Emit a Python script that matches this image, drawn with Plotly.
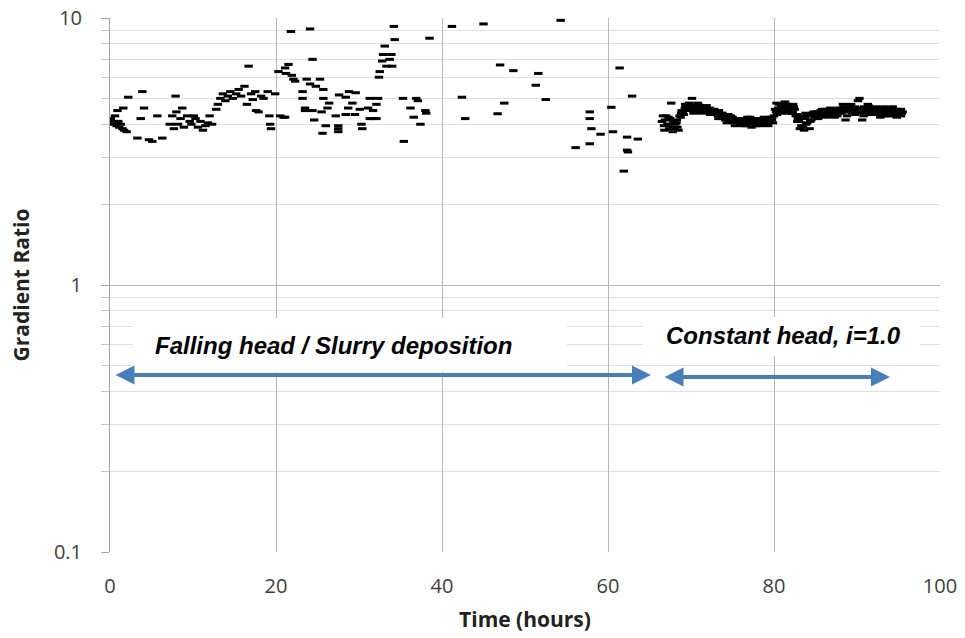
import plotly.graph_objects as go

# Falling head / slurry deposition period
fh_t = [0.1, 0.3, 0.5, 0.6, 0.8, 1.0, 1.1, 1.3, 1.5, 1.7, 2.0, 0.9, 1.6, 2.2, 3.7, 3.9, 4.1, 3.3, 4.7, 5.1,
        6.3, 5.7, 7.9, 7.2, 7.5, 7.7, 8.0, 8.2, 8.5, 8.7, 8.9, 9.3, 9.6, 9.8, 10.1, 10.3, 10.6, 10.9, 11.2, 11.5,
        11.8, 12.0, 12.3, 12.8, 13.0, 13.3, 13.6, 13.9, 14.2, 14.5, 14.8, 15.2, 15.5, 15.8, 16.2, 16.5, 16.7, 17.0, 17.2, 17.5,
        17.6, 17.9, 18.2, 18.5, 19.0, 19.2, 19.3, 19.4, 19.9,
        20.3, 20.5, 20.9, 21.1, 21.1, 21.2, 21.5, 21.8, 21.9, 22.1, 22.3, 23.2, 23.2, 23.5, 23.5, 23.7, 24.1, 24.1, 24.4, 24.4,
        24.6, 24.8, 25.3, 25.5, 25.6, 25.7, 25.7, 26.0, 26.2, 26.4, 27.2, 27.5, 27.5, 27.5, 27.6, 28.4, 28.4, 28.7, 28.8, 29.2,
        29.5, 29.6, 30.1, 30.3, 30.4, 31.1, 31.3, 31.3, 31.7, 31.7, 32.1, 32.1, 32.3, 32.4, 32.5, 32.8, 32.9, 33.1, 33.3, 33.7,
        33.9, 34.0, 34.2, 34.3, 35.3, 35.4, 36.2, 36.6, 36.9, 37.1, 37.4, 38.0, 38.1, 38.5,
        41.2, 45.0, 54.3, 42.4, 42.8, 47.0, 48.6, 51.6, 51.3, 52.5, 47.5, 46.7, 57.8, 57.8, 58.0, 59.1, 57.8, 56.1,
        60.4, 60.6, 61.4, 62.9, 62.3, 63.6, 62.3, 62.4, 61.9]
fh_y = [4.2, 4.0, 4.1, 4.3, 3.95, 4.1, 3.9, 4.0, 3.85, 3.8, 3.75, 4.5, 4.6, 5.05, 4.2, 5.3, 4.6, 3.55, 3.5, 3.45,
        3.55, 4.3, 5.1, 4.0, 4.3, 3.85, 4.45, 4.0, 4.2, 4.6, 3.9, 4.3, 4.1, 4.0, 4.3, 4.2, 3.9, 4.1, 3.8, 3.95,
        4.05, 4.3, 4.0, 4.55, 4.75, 5.0, 5.2, 4.9, 5.1, 5.3, 5.0, 5.2, 5.4, 5.1, 5.55, 4.75, 6.6, 5.2, 4.95, 5.3,
        4.5, 4.45, 5.1, 5.0, 5.3, 4.3, 4.0, 3.85, 5.2,
        6.3, 4.3, 4.25, 4.25, 6.5, 6.2, 6.7, 8.9, 6.1, 5.9, 5.8, 5.3, 5.0, 4.6, 4.5, 5.9, 9.1, 5.66, 7.0, 4.5,
        4.15, 5.55, 5.9, 4.45, 3.7, 5.4, 5.0, 3.95, 4.6, 4.8, 4.3, 3.95, 3.85, 3.75, 5.15, 5.05, 4.35, 4.6, 5.3, 4.8,
        4.35, 5.25, 4.55, 4.0, 3.85, 4.6, 5.0, 4.2, 4.5, 4.2, 4.75, 4.2, 5.0, 6.0, 6.3, 6.9, 7.3, 7.85, 6.6, 7.0,
        7.3, 6.6, 9.3, 8.3, 5.0, 3.45, 4.6, 4.25, 5.0, 4.9, 4.0, 4.5, 4.4, 8.4,
        9.3, 9.5, 9.8, 5.05, 4.2, 6.67, 6.35, 6.2, 5.6, 4.95, 4.8, 4.38, 4.45, 4.2, 3.85, 3.67, 3.38, 3.27,
        4.63, 3.75, 6.5, 5.1, 3.58, 3.52, 3.2, 3.15, 2.67]

# Constant head period
ch_t_a = [66.5, 66.75, 67.0, 67.25, 67.5, 67.75, 68.0, 68.25, 68.5, 68.75, 69.0, 69.25, 69.5, 69.75,
          70.0, 70.25, 70.5, 70.75, 71.0, 71.25, 71.5, 71.75, 72.0, 72.25, 72.5, 72.75,
          73.0, 73.25, 73.5, 73.75, 74.0, 74.25, 74.5, 74.75, 75.0, 75.25, 75.5, 75.75,
          76.0, 76.25, 76.5, 76.75, 77.0, 77.25, 77.5, 77.75, 78.0, 78.25, 78.5, 78.75, 79.0, 79.25, 79.5, 79.75,
          80.0, 80.25, 80.5, 80.75, 81.0, 81.25, 81.5, 81.75, 82.0, 82.25, 82.5, 82.75,
          83.0, 83.25, 83.5, 83.75, 84.0, 84.25, 84.5, 84.75,
          85.0, 85.25, 85.5, 85.75, 86.0, 86.25, 86.5, 86.75, 87.0, 87.25, 87.5, 87.75,
          88.0, 88.25, 88.5, 88.75, 89.0, 89.25, 89.5, 89.75, 90.0, 90.25, 90.5, 90.75, 91.0, 91.25, 91.5, 91.75,
          92.0, 92.25, 92.5, 92.75, 93.0, 93.25, 93.5, 93.75, 94.0, 94.25, 94.5, 94.75, 95.0, 95.1, 95.25, 95.4]
ch_y_a = [4.1, 3.95, 4.3, 4.0, 4.2, 3.9, 3.85, 4.05, 3.8, 4.25, 4.45, 4.6, 4.55, 4.7,
          4.6, 4.5, 4.65, 4.55, 4.7, 4.5, 4.6, 4.55, 4.45, 4.6, 4.5, 4.4,
          4.45, 4.3, 4.4, 4.25, 4.3, 4.2, 4.35, 4.15, 4.25, 4.1, 4.2, 4.15,
          4.1, 4.05, 4.15, 4.0, 4.1, 4.2, 4.05, 4.1, 4.0, 4.15, 4.05, 4.1, 4.2, 4.0, 4.1, 4.15,
          4.3, 4.45, 4.6, 4.5, 4.7, 4.55, 4.65, 4.5, 4.6, 4.45, 4.55, 4.35,
          4.1, 4.25, 3.9, 4.2, 4.05, 4.3, 4.15, 4.35,
          4.3, 4.4, 4.35, 4.45, 4.3, 4.4, 4.5, 4.35, 4.45, 4.4, 4.5, 4.4,
          4.5, 4.45, 4.6, 4.55, 4.45, 4.6, 4.5, 4.65, 4.55, 4.4, 4.6, 4.5, 4.55, 4.45, 4.6, 4.5,
          4.4, 4.55, 4.45, 4.5, 4.35, 4.5, 4.4, 4.55, 4.45, 4.35, 4.5, 4.4, 4.45, 4.35, 4.5, 4.4]
ch_t_b = [66.62, 66.87, 67.12, 67.37, 67.62, 67.87, 68.12, 68.37, 68.62, 68.87, 69.12, 69.37, 69.62, 69.87,
          70.12, 70.37, 70.62, 70.87, 71.12, 71.37, 71.62, 71.87, 72.12, 72.37, 72.62, 72.87,
          73.12, 73.37, 73.62, 73.87, 74.12, 74.37, 74.62, 74.87, 75.12, 75.37, 75.62, 75.87,
          76.12, 76.37, 76.62, 76.87, 77.12, 77.37, 77.62, 77.87, 78.12, 78.37, 78.62, 78.87, 79.12, 79.37, 79.62, 79.87,
          80.12, 80.37, 80.62, 80.87, 81.12, 81.37, 81.62, 81.87, 82.12, 82.37, 82.62, 82.87,
          83.12, 83.37, 83.62, 83.87, 84.12, 84.37, 84.62, 84.87,
          85.12, 85.37, 85.62, 85.87, 86.12, 86.37, 86.62, 86.87, 87.12, 87.37, 87.62, 87.87,
          88.12, 88.37, 88.62, 88.87, 89.12, 89.37, 89.62, 89.87, 90.12, 90.37, 90.62, 90.87, 91.12, 91.37, 91.62, 91.87,
          92.12, 92.37, 92.62, 92.87, 93.12, 93.37, 93.62, 93.87, 94.12, 94.37, 94.62, 94.87, 95.05, 95.2, 95.3, 95.5]
ch_y_b = [4.3, 4.15, 4.0, 3.85, 4.8, 4.1, 4.0, 3.9, 4.3, 4.5, 4.35, 4.65, 4.75, 4.5,
          5.0, 4.7, 4.45, 4.75, 4.6, 4.65, 4.45, 4.7, 4.55, 4.45, 4.35, 4.5,
          4.35, 4.5, 4.2, 4.35, 4.15, 4.3, 4.1, 4.25, 4.05, 4.2, 4.1, 4.0,
          4.0, 4.2, 3.95, 4.1, 4.25, 4.0, 4.15, 3.95, 4.2, 4.05, 4.0, 4.2, 4.05, 4.15, 4.25, 4.05,
          4.55, 4.35, 4.75, 4.65, 4.45, 4.8, 4.4, 4.7, 4.4, 4.65, 4.3, 4.2,
          3.85, 4.3, 3.8, 4.0, 4.35, 4.1, 4.4, 4.25,
          4.45, 4.25, 4.5, 4.3, 4.55, 4.35, 4.3, 4.5, 4.35, 4.55, 4.3, 4.5,
          4.4, 4.65, 4.15, 4.5, 4.7, 4.4, 4.55, 4.45, 4.9, 4.6, 4.15, 4.65, 4.4, 4.7, 4.4, 4.55,
          4.6, 4.35, 4.55, 4.4, 4.6, 4.3, 4.55, 4.4, 4.6, 4.5, 4.3, 4.55, 4.35, 4.5, 4.3, 4.45]
ch_t_c = [66.8, 67.3, 67.8, 68.3, 68.8, 69.3, 69.8, 70.3, 70.8, 71.3, 71.8, 72.3,
          72.8, 73.3, 73.8, 74.3, 74.8, 75.3, 75.8, 76.3, 76.8, 77.3, 77.8, 78.3, 78.8, 79.3, 79.8,
          80.3, 80.8, 81.3, 81.8, 82.3, 82.8, 83.3, 83.8, 84.3, 84.8,
          85.3, 85.8, 86.3, 86.8, 87.3, 87.8, 88.3, 88.8, 89.3, 89.8, 90.3, 90.8, 91.3, 91.8,
          92.3, 92.8, 93.3, 93.8, 94.3, 94.8, 95.3]
ch_y_c = [3.8, 4.25, 3.75, 4.15, 4.4, 4.75, 4.8, 4.4, 4.8, 4.4, 4.65, 4.35,
          4.55, 4.2, 4.4, 4.05, 4.3, 3.95, 4.2, 3.95, 4.25, 3.9, 4.2, 3.95, 4.25, 3.95, 4.25,
          4.8, 4.4, 4.85, 4.45, 4.75, 4.1, 3.95, 4.4, 3.85, 4.45,
          4.2, 4.55, 4.25, 4.6, 4.25, 4.6, 4.75, 4.3, 4.75, 4.35, 5.0, 4.3, 4.75, 4.35,
          4.65, 4.25, 4.65, 4.3, 4.65, 4.25, 4.55]

x_ticks = [0, 20, 40, 60, 80, 100]
y_ticks = [0.1, 1, 10]
y_ticklabels = ["0.1", "1", "10"]
y_minor = [0.2, 0.3, 0.4, 0.5, 0.6, 0.7, 0.8, 0.9, 2, 3, 4, 5, 6, 7, 8, 9]

label_fall = "Falling head / Slurry deposition"
label_const = "Constant head, i=1.0"

all_t = fh_t + ch_t_a + ch_t_b + ch_t_c
all_y = fh_y + ch_y_a + ch_y_b + ch_y_c

fig = go.Figure()
fig.add_trace(go.Scatter(
    x=all_t, y=all_y, mode="markers",
    marker=dict(symbol="line-ew", size=6, color="black", line=dict(width=3, color="black")),
    showlegend=False, hoverinfo="skip"))

W, H = 965, 638
L, R, T, B = 110, 25, 18, 86
pw, ph = W - L - R, H - T - B

def px(xp):
    return (xp - L) / pw

def py(yp):
    return (H - B - yp) / ph

shapes = [
    dict(type="rect", xref="paper", yref="paper", x0=px(133), x1=px(567), y0=py(372), y1=py(318),
         fillcolor="white", line=dict(width=0), layer="above"),
    dict(type="rect", xref="paper", yref="paper", x0=px(643), x1=px(920), y0=py(356), y1=py(317),
         fillcolor="white", line=dict(width=0), layer="above"),
]

blue = "#4A7EBB"
tfont = dict(family="Liberation Sans", size=24, color="black")
annotations = [
    dict(xref="paper", yref="paper", x=px(333), y=py(346), xanchor="center", yanchor="middle",
         text="<b><i>" + label_fall + "</i></b>", showarrow=False, font=tfont),
    dict(xref="paper", yref="paper", x=px(783), y=py(335), xanchor="center", yanchor="middle",
         text="<b><i>" + label_const + "</i></b>", showarrow=False, font=tfont),
    dict(xref="paper", yref="paper", x=px(651), y=py(375), ax=-(651 - 114), ay=0, axref="pixel", ayref="pixel",
         text="", showarrow=True, arrowside="end+start", arrowhead=2, arrowsize=0.95, arrowwidth=4,
         arrowcolor=blue, standoff=0, startstandoff=0),
    dict(xref="paper", yref="paper", x=px(890), y=py(377), ax=-(890 - 663), ay=0, axref="pixel", ayref="pixel",
         text="", showarrow=True, arrowside="end+start", arrowhead=2, arrowsize=0.95, arrowwidth=4,
         arrowcolor=blue, standoff=0, startstandoff=0),
]

tick_font = dict(family="Open Sans", size=20, color="#404040")
title_font = dict(family="Open Sans", size=21, color="#222222")
fig.update_layout(
    width=W, height=H,
    margin=dict(l=L, r=R, t=T, b=B, autoexpand=False),
    paper_bgcolor="white", plot_bgcolor="white",
    font=dict(family="Open Sans", size=18, color="#404040"),
    shapes=shapes, annotations=annotations,
    xaxis=dict(range=[0, 100], tickvals=x_ticks, showgrid=True, gridcolor="#b8b8b8", gridwidth=1,
               zeroline=False, showline=False, ticks="", ticklabelstandoff=20, automargin=False,
               tickfont=tick_font,
               title=dict(text="<b>Time (hours)</b>", font=title_font, standoff=14)),
    yaxis=dict(type="log", range=[-1, 1], tickvals=y_ticks, ticktext=y_ticklabels,
               showgrid=True, gridcolor="#b8b8b8", gridwidth=1, zeroline=False,
               showline=True, linecolor="#a0a0a0", linewidth=1, automargin=False,
               ticks="outside", ticklen=8, tickcolor="#a8a8a8", ticklabelstandoff=15,
               tickfont=tick_font,
               minor=dict(tickvals=y_minor, showgrid=True, gridcolor="#e0e0e0", gridwidth=1,
                          ticks="outside", ticklen=8, tickcolor="#c8c8c8"),
               title=dict(text="<b>Gradient Ratio</b>", font=title_font, standoff=18)),
)

fig.write_html("out.html", config={"displayModeBar": False},
               post_script="document.body.style.margin='0';")
